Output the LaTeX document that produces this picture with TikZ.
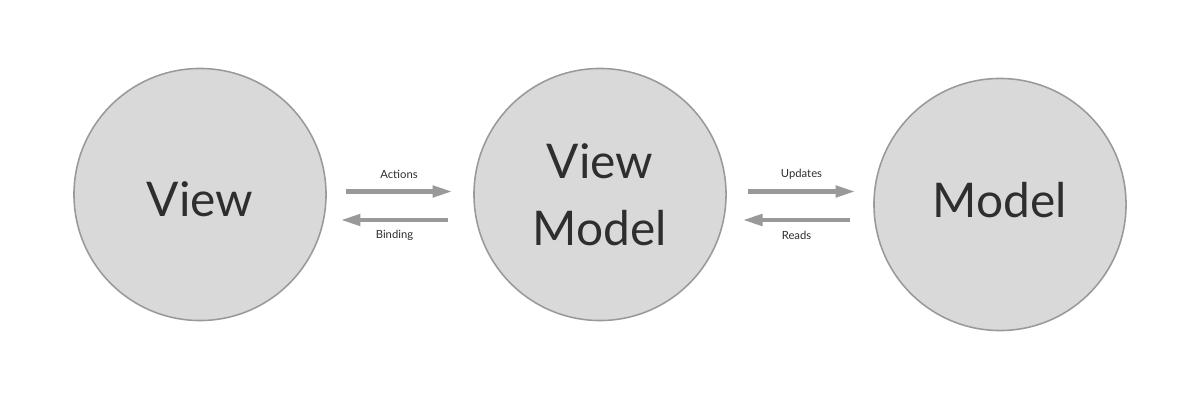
\documentclass[tikz,border=0pt]{standalone}
\usepackage{fontspec}
\setmainfont{Lato}
\usetikzlibrary{arrows.meta,positioning,calc}
\definecolor{disc}{HTML}{D9D9D9}
\definecolor{rim}{HTML}{999999}
\definecolor{ink}{HTML}{2E2E2E}

\begin{document}
\begin{tikzpicture}[
  x=0.025cm, y=-0.025cm,
  font=\normalfont,
  >={Triangle[length=14pt, width=8pt]},
  part/.style={circle, draw=rim, fill=disc, line width=1.1pt, minimum size=6.3cm,
               inner sep=0pt, align=center, text=ink, font=\fontsize{34}{48}\selectfont},
  flow/.style={->, draw=rim, line width=3pt},
  lbl/.style={font=\fontsize{8}{10}\selectfont, text=ink},
]
\useasboundingbox (0,0) rectangle (1200,400);

% ---- parts -------------------------------------------------------------------
\node[part] (view)  at (200,194.5)  {\raisebox{-3.5pt}[\height][\depth]{View}};
\node[part] (vm)    at (600,194.5)  {View\\Model};
\node[part] (model) at (1000,204.5) {\raisebox{3.5pt}[\height][\depth]{Model}};

% ---- arrow ends --------------------------------------------------------------
\coordinate (actS) at ($(view.east)+(19,-3)$);
\coordinate (actE) at ($(vm.west)+(-21,-3)$);
\coordinate (bndS) at ($(vm.west)+(-25,25.5)$);
\coordinate (bndE) at ($(view.east)+(14,25.5)$);
\coordinate (updS) at ($(vm.east)+(21,-3)$);
\coordinate (updE) at ($(model.west)+(-18,-13)$);
\coordinate (rdsS) at ($(model.west)+(-23,15.5)$);
\coordinate (rdsE) at ($(vm.east)+(16,25.5)$);

% ---- flows -------------------------------------------------------------------
\draw[flow] (actS) -- node[lbl, midway, yshift=12pt]  {Actions} (actE);
\draw[flow] (bndS) -- node[lbl, midway, yshift=-11pt] {Binding} (bndE);
\draw[flow] (updS) -- node[lbl, midway, yshift=12.5pt] {Updates} (updE);
\draw[flow] (rdsS) -- node[lbl, midway, yshift=-11pt] {Reads}   (rdsE);
\end{tikzpicture}
\end{document}
